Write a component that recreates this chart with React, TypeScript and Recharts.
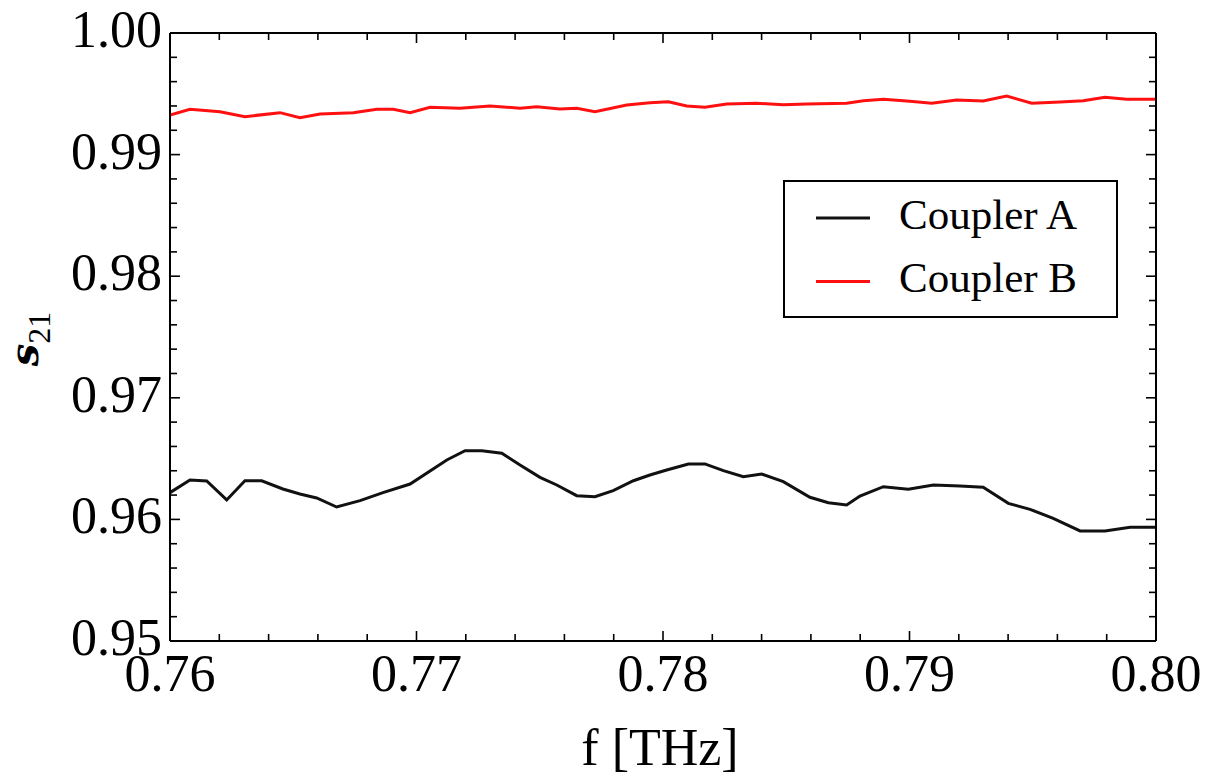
import React from "react";
import { LineChart, Line, XAxis, YAxis, Legend } from "recharts";

// Coupler A (black)
const couplerAFreq = [0.76, 0.76081, 0.76149, 0.7623, 0.76304, 0.76372, 0.76458, 0.76527, 0.76595, 0.76676, 0.76771, 0.76864, 0.76974, 0.77123, 0.77197, 0.77265, 0.77346, 0.7742, 0.77501, 0.77569, 0.7765, 0.77724, 0.77798, 0.7788, 0.77947, 0.78015, 0.78103, 0.7817, 0.78245, 0.78326, 0.784, 0.78488, 0.78596, 0.78671, 0.78745, 0.78799, 0.78894, 0.78995, 0.79097, 0.79205, 0.79299, 0.79401, 0.79489, 0.79583, 0.79692, 0.79793, 0.79895, 0.8];
const couplerAS21 = [0.9622, 0.96324, 0.96316, 0.9616, 0.96318, 0.96318, 0.9625, 0.96209, 0.96176, 0.96102, 0.96154, 0.9622, 0.96291, 0.96489, 0.96565, 0.96565, 0.96544, 0.96447, 0.96346, 0.96283, 0.96195, 0.96187, 0.96236, 0.96318, 0.96365, 0.96406, 0.96456, 0.96456, 0.96401, 0.96351, 0.96373, 0.9631, 0.96182, 0.96137, 0.96118, 0.96192, 0.96269, 0.96248, 0.96283, 0.96275, 0.96264, 0.96132, 0.96083, 0.96009, 0.95905, 0.95905, 0.95935, 0.95935];

// Coupler B (red)
const couplerBFreq = [0.76, 0.76081, 0.76203, 0.76304, 0.76446, 0.76527, 0.76609, 0.76744, 0.76839, 0.76906, 0.76974, 0.77055, 0.77176, 0.77298, 0.7742, 0.77488, 0.77582, 0.7765, 0.77724, 0.77853, 0.77947, 0.78022, 0.78096, 0.7817, 0.78258, 0.7838, 0.78488, 0.78583, 0.78745, 0.78813, 0.78894, 0.79002, 0.7909, 0.79191, 0.79299, 0.79394, 0.79496, 0.79611, 0.79705, 0.79793, 0.79881, 0.8];
const couplerBS21 = [0.99326, 0.99373, 0.99353, 0.99312, 0.99345, 0.99303, 0.99334, 0.99345, 0.99373, 0.99373, 0.99345, 0.99389, 0.99381, 0.994, 0.99381, 0.99394, 0.99375, 0.99381, 0.99353, 0.99408, 0.99427, 0.99435, 0.994, 0.99389, 0.99416, 0.99422, 0.9941, 0.99416, 0.99422, 0.99443, 0.99455, 0.99438, 0.99422, 0.99449, 0.99441, 0.99482, 0.99422, 0.99433, 0.99443, 0.99471, 0.99455, 0.99455];

const seriesNames = ["Coupler A", "Coupler B"];
const seriesColors = ["#111111", "#ff1010"];

const xTicks = [0.76, 0.762, 0.764, 0.766, 0.768, 0.77, 0.772, 0.774, 0.776, 0.778, 0.78, 0.782, 0.784, 0.786, 0.788, 0.79, 0.792, 0.794, 0.796, 0.798, 0.8];
const yTicks = [0.95, 0.952, 0.954, 0.956, 0.958, 0.96, 0.962, 0.964, 0.966, 0.968, 0.97, 0.972, 0.974, 0.976, 0.978, 0.98, 0.982, 0.984, 0.986, 0.988, 0.99, 0.992, 0.994, 0.996, 0.998, 1.0];

const dataA = couplerAFreq.map((f, i) => ({ f, s: couplerAS21[i] }));
const dataB = couplerBFreq.map((f, i) => ({ f, s: couplerBS21[i] }));

const FONT = "'Liberation Serif', 'DejaVu Serif', serif";
const isMajor = (v: number) => Math.abs(v * 100 - Math.round(v * 100)) < 1e-6;
const MAJ = 10;
const MIN = 7;

const BottomTick = (props: any) => {
  const { x, y, payload } = props;
  const v = payload.value as number;
  const major = isMajor(v);
  return (
    <g>
      <line x1={x} x2={x} y1={y} y2={y - (major ? MAJ : MIN)} stroke="#000" strokeWidth={1.6} />
      {major && (
        <text x={x} y={y + 50} textAnchor="middle" fontFamily={FONT} fontSize={52} fill="#000">
          {v.toFixed(2)}
        </text>
      )}
    </g>
  );
};

const TopTick = (props: any) => {
  const { x, y, payload } = props;
  const major = isMajor(payload.value);
  return <line x1={x} x2={x} y1={y} y2={y + (major ? MAJ : MIN)} stroke="#000" strokeWidth={1.6} />;
};

const LeftTick = (props: any) => {
  const { x, y, payload } = props;
  const v = payload.value as number;
  const major = isMajor(v);
  return (
    <g>
      <line x1={x} x2={x + (major ? MAJ : MIN)} y1={y} y2={y} stroke="#000" strokeWidth={1.6} />
      {major && (
        <text x={x - 8} y={y + 14} textAnchor="end" fontFamily={FONT} fontSize={52} fill="#000">
          {v.toFixed(2)}
        </text>
      )}
    </g>
  );
};

const RightTick = (props: any) => {
  const { x, y, payload } = props;
  const major = isMajor(payload.value);
  return <line x1={x} x2={x - (major ? MAJ : MIN)} y1={y} y2={y} stroke="#000" strokeWidth={1.6} />;
};

const LegendBox = () => (
  <svg width={336} height={139} style={{ display: "block" }}>
    <rect x={1} y={1} width={333} height={136} fill="#fff" stroke="#000" strokeWidth={2} />
    {seriesNames.map((name, i) => (
      <g key={name}>
        <line x1={33} x2={87} y1={38 + i * 63.4} y2={38 + i * 63.4} stroke={seriesColors[i]} strokeWidth={3} />
        <text x={116} y={49 + i * 63} fontFamily={FONT} fontSize={43} fill="#000">
          {name}
        </text>
      </g>
    ))}
  </svg>
);

export default function App() {
  return (
    <div style={{ width: 1210, height: 768, background: "#fff" }}>
      <LineChart width={1210} height={768} margin={{ top: 24, right: 61, bottom: 75, left: 2 }}>
        <XAxis
          xAxisId="bottom"
          type="number"
          dataKey="f"
          domain={[0.76, 0.8]}
          allowDataOverflow
          ticks={xTicks}
          interval={0}
          tickSize={0}
          tickMargin={0}
          tickLine={false}
          tick={<BottomTick />}
          axisLine={{ stroke: "#000", strokeWidth: 2 }}
          height={60}
          label={{
            content: () => (
              <text x={652} y={757} textAnchor="middle" fontFamily={FONT} fontSize={52} fill="#000">
                f [THz]
              </text>
            ),
          }}
        />
        <XAxis
          xAxisId="top"
          orientation="top"
          type="number"
          dataKey="f"
          domain={[0.76, 0.8]}
          allowDataOverflow
          ticks={xTicks}
          interval={0}
          tickSize={0}
          tickMargin={0}
          tickLine={false}
          tick={<TopTick />}
          axisLine={{ stroke: "#000", strokeWidth: 2 }}
          height={1}
        />
        <YAxis
          yAxisId="left"
          type="number"
          domain={[0.95, 1.0]}
          allowDataOverflow
          ticks={yTicks}
          interval={0}
          tickSize={0}
          tickMargin={0}
          tickLine={false}
          tick={<LeftTick />}
          axisLine={{ stroke: "#000", strokeWidth: 2 }}
          width={160}
          label={{
            content: () => (
              <text x={30} y={331} textAnchor="middle" transform="rotate(-90, 30, 331)" fontFamily={FONT} fontSize={46} fill="#000">
                <tspan fontFamily="'DejaVu Serif', serif" fontStyle="italic" fontWeight="bold" fontSize={40}>s</tspan>
                <tspan fontSize={32} dy={12}>21</tspan>
              </text>
            ),
          }}
        />
        <YAxis
          yAxisId="right"
          orientation="right"
          type="number"
          domain={[0.95, 1.0]}
          allowDataOverflow
          ticks={yTicks}
          interval={0}
          tickSize={0}
          tickMargin={0}
          tickLine={false}
          tick={<RightTick />}
          axisLine={{ stroke: "#000", strokeWidth: 2 }}
          width={1}
        />
        <Legend
          layout="horizontal"
          verticalAlign="middle"
          align="center"
          content={<LegendBox />}
          wrapperStyle={{ position: "absolute", left: 775, top: 172, width: 336, height: 139 }}
        />
        <Line
          xAxisId="bottom"
          yAxisId="left"
          data={dataA}
          dataKey="s"
          name={seriesNames[0]}
          stroke={seriesColors[0]}
          strokeWidth={3}
          dot={false}
          isAnimationActive={false}
        />
        <Line
          xAxisId="bottom"
          yAxisId="left"
          data={dataB}
          dataKey="s"
          name={seriesNames[1]}
          stroke={seriesColors[1]}
          strokeWidth={3}
          dot={false}
          isAnimationActive={false}
        />
      </LineChart>
    </div>
  );
}
